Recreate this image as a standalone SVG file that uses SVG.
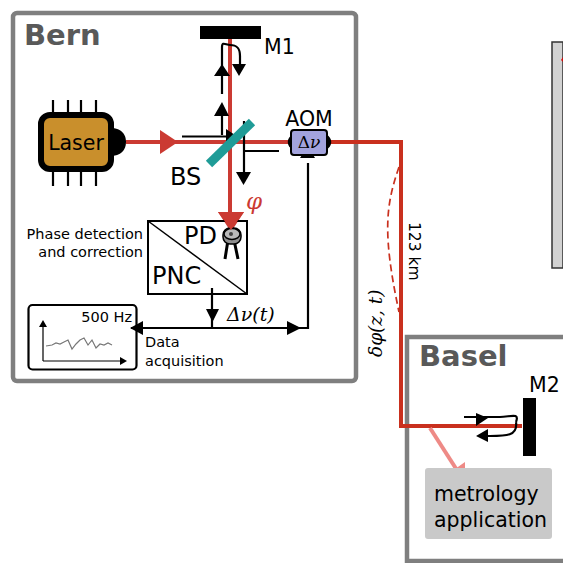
<svg xmlns="http://www.w3.org/2000/svg" width="563" height="563" viewBox="0 0 563 563">
<defs>
<style>
text{font-family:"DejaVu Sans",sans-serif;fill:#000}
.city{font-weight:bold;font-size:29px;fill:#595959}
.frame{fill:#fff;stroke:#7f7f7f;stroke-width:4.5}
.beam{fill:none;stroke:#cb3a32;stroke-width:4}
.fibre{fill:none;stroke:#c9301e;stroke-width:4}
.sig{fill:none;stroke:#000;stroke-width:2.2}
.sm{font-size:14.5px}
.md{font-size:20.5px}
.lg{font-size:24px}
.math{font-family:"DejaVu Serif",serif;font-style:italic}
</style>
<marker id="ah" markerUnits="userSpaceOnUse" markerWidth="16" markerHeight="16" refX="14" refY="7" orient="auto"><path d="M0 0L14 7L0 14Z" fill="#000"/></marker>
</defs>

<g id="panel-bern"><rect class="frame" x="13" y="13" width="343" height="368" rx="4"/><text class="city" x="24" y="45">Bern</text></g>
<g id="panel-basel"><path class="frame" d="M563 337H407V561H563" /><text class="city" x="419" y="366">Basel</text></g>
<g id="panel-right"><path d="M563 42H552V268H563Z" fill="#d2d2d2" stroke="#333" stroke-width="1.5"/><path d="M561 60L563 57V62Z" fill="#d01010"/></g>

<g id="connectors">
<path class="beam" d="M126 142H290M230 39V213"/>
<path class="fibre" d="M330 142H401V426H522"/>
<path d="M399 167C386 205 382 232 399 312" fill="none" stroke="#c9301e" stroke-width="1.7" stroke-dasharray="7 4"/>
<path d="M430 428L462 478" fill="none" stroke="#ee8a86" stroke-width="4"/>
<path d="M465 484L445 476L465 462Z" fill="#ee8a86"/>
<path d="M160 130L178 142L160 154Z" fill="#cb3a32"/>
<path d="M218 212H244L231 232Z" fill="#cb3a32"/>
<path class="sig" d="M222 94V47C222 41 226 45 230 45C237 45 240 48 240 56V68"/>
<path d="M214 76L222 64L230 76Z M232 64H246L239 76Z M214 116L222 102L229 116Z" fill="#000"/>
<path class="sig" d="M222 135V114M182 136.500H232"/>
<path d="M226 129L238 137L226 145Z" fill="#000"/>
<path class="sig" d="M244 121V176M244 151H279"/>
<path d="M236 172H251L243.500 185Z" fill="#000"/>
<path class="sig" d="M212 288V327M131 328H308V163"/>
<path d="M206 309H219L212.500 322Z M300 158H315L308 146Z" fill="#000"/>
<path d="M143 321V335L130 328Z M287 321L301 328L287 335Z" fill="#000"/>
<path class="sig" d="M516 422C520 412 510 417 500 417H464M516 422C518 436 506 436 490 436H480"/>
<path d="M476 413L488 418L476 426Z M488 429V442L476 436Z" fill="#000"/>
</g>

<g id="m1"><rect x="200" y="26" width="61" height="13"/><text class="md" x="264" y="54">M1</text></g>
<g id="m2"><rect x="523" y="398" width="13" height="58"/><text class="md" x="529" y="392">M2</text></g>

<g id="laser">
<path d="M53 100V113M68 100V113M81 100V113M96 100V113M53 170V186M68 170V186M81 170V186M96 170V186" stroke="#000" stroke-width="2.200"/>
<path d="M110 128C123 128 126 136 126 142C126 150 121 156 110 156Z" fill="#000"/>
<rect x="41" y="115" width="70" height="54" rx="9" fill="#c98f2c" stroke="#000" stroke-width="6"/>
<text class="md" x="76" y="150" text-anchor="middle">Laser</text>
</g>

<g id="bs"><path d="M209 164L252 122" stroke="#1f9c97" stroke-width="9"/><text class="lg" x="170" y="185">BS</text></g>
<path d="M0 0" fill="none"/>

<g id="aom">
<path d="M293 134C286 138 286 146 293 150ZM326 134C333 138 333 146 326 150Z" fill="#000"/>
<rect x="291" y="130" width="36" height="25" rx="3" fill="#a3a3dd" stroke="#000" stroke-width="2"/>
<text class="md" x="309" y="148" text-anchor="middle" style="font-family:'DejaVu Serif',serif;font-size:17px">Δ<tspan font-style="italic">ν</tspan></text>
<text class="md" x="309" y="126" text-anchor="middle">AOM</text>
</g>

<text x="246" y="209" style="font-family:'DejaVu Serif',serif;font-style:italic;font-size:23px;fill:#cb3a32">φ</text>

<g id="pnc">
<rect x="148" y="221" width="99" height="73" fill="none" stroke="#000" stroke-width="2"/>
<path d="M148 221L247 294" stroke="#000" stroke-width="1.500"/>
<text class="lg" x="184" y="244">PD</text>
<text class="lg" x="152" y="284">PNC</text>
<path d="M228 240L225 259M234 240L238 259" stroke="#000" stroke-width="3"/>
<rect x="223" y="228" width="18" height="16" rx="7" fill="#8e8e8e" stroke="#000" stroke-width="1.500"/>
<ellipse cx="232" cy="234" rx="8" ry="5.500" fill="#b9b9b9" stroke="#000" stroke-width="1.500"/>
<circle cx="231" cy="234" r="2" fill="#444"/>
<path d="M218 212H244L231 230Z" fill="#cb3a32"/>
</g>

<text class="sm" x="143" y="239" text-anchor="end">Phase detection</text>
<text class="sm" x="143" y="257" text-anchor="end">and correction</text>
<text class="math" x="227" y="321" font-size="19">Δν(t)</text>

<g id="daq">
<rect x="28.500" y="305" width="108" height="64.500" rx="4" fill="none" stroke="#000" stroke-width="2.200"/>
<text class="sm" x="132" y="322" text-anchor="end">500 Hz</text>
<path d="M43 361V325M43 361H122" class="sig" stroke-width="1.200" style="stroke-width:1.200"/>
<path d="M39 327L43 320L47 327ZM120 357L127 361L120 365Z" fill="#000"/>
<path d="M46 346L52 345L56 343L60 344L64 342L68 340L72 349L76 344L80 340L84 338L88 345L92 340L96 348L100 344L104 345L108 343L112 345" fill="none" stroke="#777" stroke-width="1.200"/>
</g>
<text class="sm" x="145" y="347">Data</text>
<text class="sm" x="145" y="366">acquisition</text>

<text class="sm" transform="translate(409 222) rotate(90)" style="font-size:15.500px">123 km</text>
<text class="math" transform="translate(382 357) rotate(-90)" font-size="18.500">δφ(z, t)</text>

<g id="metrology">
<rect x="425" y="468" width="127" height="71" rx="3" fill="#c9c9c9"/>
<text class="md" x="434" y="501">metrology</text>
<text class="md" x="434" y="527">application</text>
</g>
</svg>
